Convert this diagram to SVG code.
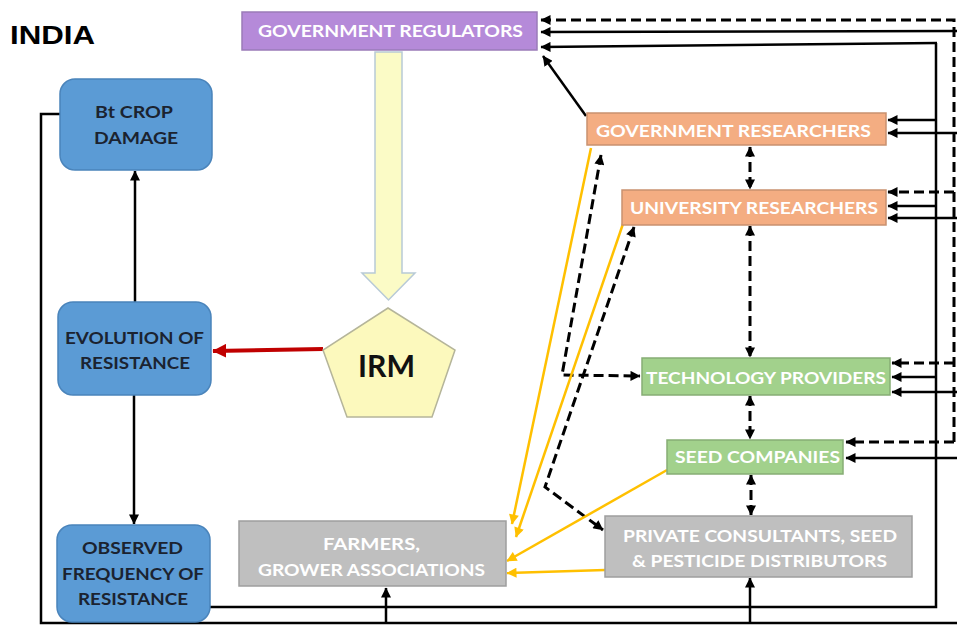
<svg xmlns="http://www.w3.org/2000/svg" width="957" height="625" viewBox="0 0 957 625">
<style>
.wt{font-family:Lato,"Open Sans","Liberation Sans",sans-serif;font-weight:700;font-size:17px;fill:#ffffff}
.bt{font-family:Lato,"Open Sans","Liberation Sans",sans-serif;font-weight:700;font-size:17px;fill:#1b2330}
.blue{fill:#5b9bd5;stroke:#4a84bb;stroke-width:1.5}
.orange{fill:#f4ad82;stroke:#c9916f;stroke-width:1.5}
.green{fill:#a2d18c;stroke:#86ad74;stroke-width:1.5}
.gray{fill:#bfbfbf;stroke:#9e9e9e;stroke-width:1.5}
.purple{fill:#b58ad9;stroke:#9a7bb8;stroke-width:1.5}
.s{fill:none;stroke:#000;stroke-width:2.5}
.d{fill:none;stroke:#000;stroke-width:3;stroke-dasharray:10 5}
.g{fill:none;stroke:#ffc000;stroke-width:2.5}
</style>
<defs>
<marker id="ah" viewBox="0 0 10 10" refX="9.5" refY="5" markerWidth="11" markerHeight="10" markerUnits="userSpaceOnUse" orient="auto-start-reverse">
<path d="M0,0 L10,5 L0,10 Z" fill="#000"/>
</marker>
<marker id="ahg" viewBox="0 0 10 10" refX="9.5" refY="5" markerWidth="11" markerHeight="10" markerUnits="userSpaceOnUse" orient="auto">
<path d="M0,0 L10,5 L0,10 Z" fill="#ffc000"/>
</marker>
<marker id="ahr" viewBox="0 0 10 10" refX="9.5" refY="5" markerWidth="14" markerHeight="14" markerUnits="userSpaceOnUse" orient="auto">
<path d="M0,0 L10,5 L0,10 Z" fill="#c00000"/>
</marker>
</defs>
<rect width="957" height="625" fill="#ffffff"/>
<text x="10" y="44" font-family="'Liberation Sans',Arial,sans-serif" font-weight="700" font-size="25" fill="#000" textLength="85" lengthAdjust="spacingAndGlyphs">INDIA</text>

<g id="connectors">
<line class="s" x1="135" y1="302" x2="135" y2="171" marker-end="url(#ah)"/>
<line class="s" x1="134" y1="395" x2="134" y2="524" marker-end="url(#ah)"/>
<path class="s" d="M60,114 H41 V623 H957"/>
<line class="s" x1="386" y1="623" x2="386" y2="588" marker-end="url(#ah)"/>
<line class="s" x1="750" y1="623" x2="750" y2="578" marker-end="url(#ah)"/>
<path class="s" d="M210,607 H936 V43"/>
<line class="s" x1="937" y1="43" x2="541" y2="47" marker-end="url(#ah)"/>
<line class="s" x1="936" y1="120" x2="888" y2="120" marker-end="url(#ah)"/>
<line class="s" x1="936" y1="206" x2="888" y2="206" marker-end="url(#ah)"/>
<line class="s" x1="936" y1="377" x2="892" y2="377" marker-end="url(#ah)"/>
<line class="s" x1="957" y1="31" x2="541" y2="32" marker-end="url(#ah)"/>
<line class="s" x1="957" y1="133" x2="888" y2="133" marker-end="url(#ah)"/>
<line class="s" x1="957" y1="218" x2="888" y2="218" marker-end="url(#ah)"/>
<line class="s" x1="957" y1="392" x2="892" y2="392" marker-end="url(#ah)"/>
<line class="s" x1="957" y1="458" x2="846" y2="458" marker-end="url(#ah)"/>
<path class="d" d="M954,442 V20 H541" marker-end="url(#ah)"/>
<line class="d" x1="954" y1="192" x2="888" y2="192" marker-end="url(#ah)"/>
<line class="d" x1="954" y1="363" x2="892" y2="363" marker-end="url(#ah)"/>
<line class="d" x1="954" y1="442" x2="846" y2="442" marker-end="url(#ah)"/>
<line class="s" x1="586" y1="116" x2="543" y2="56" marker-end="url(#ah)"/>
<line class="d" x1="750" y1="147" x2="750" y2="189" marker-start="url(#ah)" marker-end="url(#ah)"/>
<line class="d" x1="750" y1="226" x2="750" y2="357" marker-start="url(#ah)" marker-end="url(#ah)"/>
<line class="d" x1="750" y1="396" x2="750" y2="439" marker-start="url(#ah)" marker-end="url(#ah)"/>
<line class="d" x1="751" y1="475" x2="751" y2="515" marker-start="url(#ah)" marker-end="url(#ah)"/>
<path class="d" d="M601,155 L562,375 L640,376" marker-start="url(#ah)" marker-end="url(#ah)"/>
<path class="d" d="M634,227 L545,487 L603,530" marker-start="url(#ah)" marker-end="url(#ah)"/>
<line class="g" x1="591" y1="148" x2="512" y2="524" marker-end="url(#ahg)"/>
<line class="g" x1="625" y1="218" x2="516" y2="537" marker-end="url(#ahg)"/>
<line class="g" x1="667" y1="470" x2="507" y2="561" marker-end="url(#ahg)"/>
<line class="g" x1="605" y1="570" x2="507" y2="573" marker-end="url(#ahg)"/>
<line x1="323" y1="349" x2="213" y2="351" stroke="#c00000" stroke-width="4" marker-end="url(#ahr)"/>
<path d="M375,52 H402 V273 H415 L388.5,300 L362,273 H375 Z" fill="#fbfbc6" stroke="#b8cad6" stroke-width="1.5"/>
</g>

<g id="gov-regulators">
<rect class="purple" x="242" y="12" width="295" height="38"/>
<text class="wt" x="258" y="37" textLength="265" lengthAdjust="spacingAndGlyphs">GOVERNMENT REGULATORS</text>
</g>
<g id="bt-crop-damage">
<rect class="blue" x="60" y="79" width="152" height="91" rx="15"/>
<text class="bt" x="95" y="118" textLength="78" lengthAdjust="spacingAndGlyphs">Bt CROP</text>
<text class="bt" x="94" y="144" textLength="84" lengthAdjust="spacingAndGlyphs">DAMAGE</text>
</g>
<g id="evolution">
<rect class="blue" x="58" y="302" width="153" height="93" rx="15"/>
<text class="bt" x="65" y="344" textLength="139" lengthAdjust="spacingAndGlyphs">EVOLUTION OF</text>
<text class="bt" x="80" y="369" textLength="110" lengthAdjust="spacingAndGlyphs">RESISTANCE</text>
</g>
<g id="observed">
<rect class="blue" x="57" y="525" width="153" height="97" rx="15"/>
<text class="bt" x="82" y="554" textLength="101" lengthAdjust="spacingAndGlyphs">OBSERVED</text>
<text class="bt" x="62" y="580" textLength="142" lengthAdjust="spacingAndGlyphs">FREQUENCY OF</text>
<text class="bt" x="78" y="605" textLength="110" lengthAdjust="spacingAndGlyphs">RESISTANCE</text>
</g>
<g id="irm">
<polygon points="388,308 455,350 432,417 347,417 323,350" fill="#fcf9bd" stroke="#b5b59a" stroke-width="1.5"/>
<text x="358" y="377" font-family="Lato,'Open Sans','Liberation Sans',sans-serif" font-weight="700" font-size="30" fill="#111" textLength="57" lengthAdjust="spacingAndGlyphs">IRM</text>
</g>
<g id="gov-researchers">
<rect class="orange" x="587" y="113" width="299" height="32"/>
<text class="wt" x="596" y="137" textLength="275" lengthAdjust="spacingAndGlyphs">GOVERNMENT RESEARCHERS</text>
</g>
<g id="university-researchers">
<rect class="orange" x="622" y="190" width="264" height="35"/>
<text class="wt" x="630" y="214" textLength="248" lengthAdjust="spacingAndGlyphs">UNIVERSITY RESEARCHERS</text>
</g>
<g id="technology-providers">
<rect class="green" x="642" y="358" width="248" height="37"/>
<text class="wt" x="646" y="384" textLength="240" lengthAdjust="spacingAndGlyphs">TECHNOLOGY PROVIDERS</text>
</g>
<g id="seed-companies">
<rect class="green" x="667" y="440" width="176" height="34"/>
<text class="wt" x="675" y="463" textLength="165" lengthAdjust="spacingAndGlyphs">SEED COMPANIES</text>
</g>
<g id="private-consultants">
<rect class="gray" x="605" y="516" width="307" height="61"/>
<text class="wt" x="623" y="542" textLength="274" lengthAdjust="spacingAndGlyphs">PRIVATE CONSULTANTS, SEED</text>
<text class="wt" x="632" y="567" textLength="255" lengthAdjust="spacingAndGlyphs">&amp; PESTICIDE DISTRIBUTORS</text>
</g>
<g id="farmers">
<rect class="gray" x="239" y="521" width="267" height="65"/>
<text class="wt" x="323" y="550" textLength="97" lengthAdjust="spacingAndGlyphs">FARMERS,</text>
<text class="wt" x="258" y="576" textLength="227" lengthAdjust="spacingAndGlyphs">GROWER ASSOCIATIONS</text>
</g>
</svg>
